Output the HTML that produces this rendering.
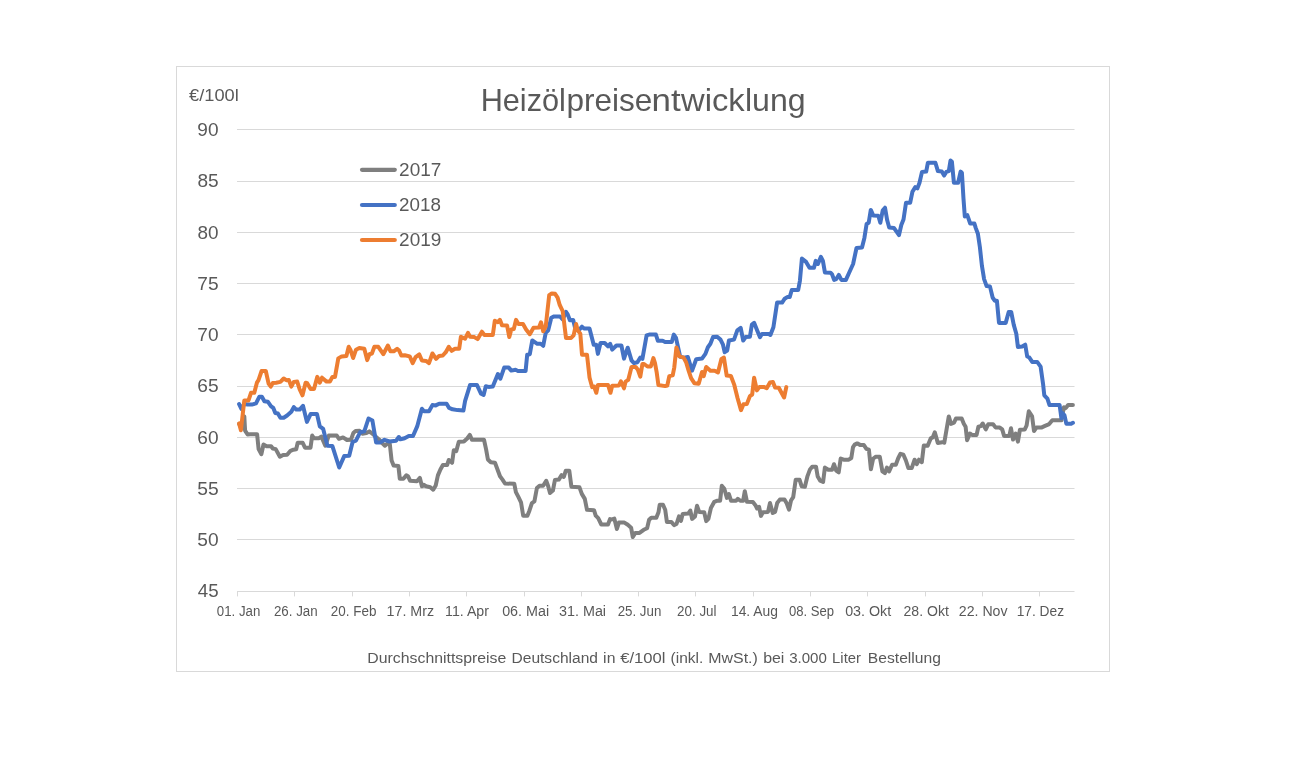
<!DOCTYPE html>
<html lang="de"><head><meta charset="utf-8"><title>Heizölpreisentwicklung</title>
<style>html,body{margin:0;padding:0;background:#fff;}body{width:1316px;height:762px;overflow:hidden;}svg{display:block;}text{font-family:"Liberation Sans", sans-serif;fill:#595959;}</style></head><body>
<svg width="1316" height="762" viewBox="0 0 1316 762">
<rect x="0" y="0" width="1316" height="762" fill="#fff"/>
<rect x="176.5" y="66.5" width="933" height="605" fill="#fff" stroke="#d9d9d9" stroke-width="1" shape-rendering="crispEdges"/>
<g stroke="#d9d9d9" stroke-width="1">
<line x1="237" y1="129.5" x2="1074.5" y2="129.5"/>
<line x1="237" y1="181.5" x2="1074.5" y2="181.5"/>
<line x1="237" y1="232.5" x2="1074.5" y2="232.5"/>
<line x1="237" y1="283.5" x2="1074.5" y2="283.5"/>
<line x1="237" y1="334.5" x2="1074.5" y2="334.5"/>
<line x1="237" y1="386.5" x2="1074.5" y2="386.5"/>
<line x1="237" y1="437.5" x2="1074.5" y2="437.5"/>
<line x1="237" y1="488.5" x2="1074.5" y2="488.5"/>
<line x1="237" y1="539.5" x2="1074.5" y2="539.5"/>
<line x1="237" y1="591.5" x2="1074.5" y2="591.5"/>
<line x1="237.5" y1="591" x2="237.5" y2="596.4"/>
<line x1="294.5" y1="591" x2="294.5" y2="596.4"/>
<line x1="352.5" y1="591" x2="352.5" y2="596.4"/>
<line x1="409.5" y1="591" x2="409.5" y2="596.4"/>
<line x1="466.5" y1="591" x2="466.5" y2="596.4"/>
<line x1="524.5" y1="591" x2="524.5" y2="596.4"/>
<line x1="581.5" y1="591" x2="581.5" y2="596.4"/>
<line x1="638.5" y1="591" x2="638.5" y2="596.4"/>
<line x1="695.5" y1="591" x2="695.5" y2="596.4"/>
<line x1="753.5" y1="591" x2="753.5" y2="596.4"/>
<line x1="810.5" y1="591" x2="810.5" y2="596.4"/>
<line x1="867.5" y1="591" x2="867.5" y2="596.4"/>
<line x1="925.5" y1="591" x2="925.5" y2="596.4"/>
<line x1="982.5" y1="591" x2="982.5" y2="596.4"/>
<line x1="1039.5" y1="591" x2="1039.5" y2="596.4"/>
</g>
<text x="189.07" y="100.90" font-size="16.8" textLength="49.77" lengthAdjust="spacingAndGlyphs">€/100l</text>
<text x="197.32" y="135.70" font-size="18.6" textLength="21.19" lengthAdjust="spacingAndGlyphs">90</text>
<text x="197.47" y="186.50" font-size="18.6" textLength="21.22" lengthAdjust="spacingAndGlyphs">85</text>
<text x="197.48" y="238.70" font-size="18.6" textLength="21.04" lengthAdjust="spacingAndGlyphs">80</text>
<text x="197.32" y="289.70" font-size="18.6" textLength="21.29" lengthAdjust="spacingAndGlyphs">75</text>
<text x="197.32" y="340.70" font-size="18.6" textLength="21.19" lengthAdjust="spacingAndGlyphs">70</text>
<text x="197.30" y="391.50" font-size="18.6" textLength="21.30" lengthAdjust="spacingAndGlyphs">65</text>
<text x="197.29" y="443.70" font-size="18.6" textLength="21.21" lengthAdjust="spacingAndGlyphs">60</text>
<text x="197.33" y="494.70" font-size="18.6" textLength="21.39" lengthAdjust="spacingAndGlyphs">55</text>
<text x="197.33" y="545.70" font-size="18.6" textLength="21.29" lengthAdjust="spacingAndGlyphs">50</text>
<text x="197.88" y="596.50" font-size="18.6" textLength="20.82" lengthAdjust="spacingAndGlyphs">45</text>
<text x="216.86" y="615.80" font-size="14" textLength="43.53" lengthAdjust="spacingAndGlyphs">01. Jan</text>
<text x="273.92" y="615.80" font-size="14" textLength="43.74" lengthAdjust="spacingAndGlyphs">26. Jan</text>
<text x="330.78" y="615.80" font-size="14" textLength="45.65" lengthAdjust="spacingAndGlyphs">20. Feb</text>
<text x="386.57" y="615.80" font-size="14" textLength="47.52" lengthAdjust="spacingAndGlyphs">17. Mrz</text>
<text x="445.11" y="615.80" font-size="14" textLength="43.87" lengthAdjust="spacingAndGlyphs">11. Apr</text>
<text x="502.16" y="615.80" font-size="14" textLength="46.94" lengthAdjust="spacingAndGlyphs">06. Mai</text>
<text x="559.06" y="615.80" font-size="14" textLength="47.01" lengthAdjust="spacingAndGlyphs">31. Mai</text>
<text x="617.66" y="615.80" font-size="14" textLength="43.69" lengthAdjust="spacingAndGlyphs">25. Jun</text>
<text x="677.04" y="615.80" font-size="14" textLength="39.53" lengthAdjust="spacingAndGlyphs">20. Jul</text>
<text x="730.94" y="615.80" font-size="14" textLength="47.04" lengthAdjust="spacingAndGlyphs">14. Aug</text>
<text x="788.89" y="615.80" font-size="14" textLength="45.12" lengthAdjust="spacingAndGlyphs">08. Sep</text>
<text x="845.16" y="615.80" font-size="14" textLength="46.08" lengthAdjust="spacingAndGlyphs">03. Okt</text>
<text x="903.49" y="615.80" font-size="14" textLength="45.37" lengthAdjust="spacingAndGlyphs">28. Okt</text>
<text x="958.86" y="615.80" font-size="14" textLength="48.66" lengthAdjust="spacingAndGlyphs">22. Nov</text>
<text x="1016.67" y="615.80" font-size="14" textLength="47.37" lengthAdjust="spacingAndGlyphs">17. Dez</text>
<text x="399.08" y="176.20" font-size="18.2" textLength="42.23" lengthAdjust="spacingAndGlyphs">2017</text>
<text x="399.08" y="211.40" font-size="18.2" textLength="41.84" lengthAdjust="spacingAndGlyphs">2018</text>
<text x="399.08" y="246.40" font-size="18.2" textLength="42.21" lengthAdjust="spacingAndGlyphs">2019</text>
<text y="110.8" font-size="31.2"><tspan x="480.65" textLength="85.21" lengthAdjust="spacingAndGlyphs">Heizöl</tspan><tspan x="566.55" textLength="85.84" lengthAdjust="spacingAndGlyphs">preise</tspan><tspan x="651.58" textLength="29.15" lengthAdjust="spacingAndGlyphs">nt</tspan><tspan x="681.06" textLength="63.64" lengthAdjust="spacingAndGlyphs">wick</tspan><tspan x="744.96" textLength="60.70" lengthAdjust="spacingAndGlyphs">lung</tspan></text>
<text y="662.7" font-size="14"><tspan x="367.35" textLength="138.98" lengthAdjust="spacingAndGlyphs">Durchschnittspreise</tspan> <tspan x="511.49" textLength="86.52" lengthAdjust="spacingAndGlyphs">Deutschland</tspan> <tspan x="603.14" textLength="12.30" lengthAdjust="spacingAndGlyphs">in</tspan> <tspan x="620.15" textLength="45.32" lengthAdjust="spacingAndGlyphs">€/100l</tspan> <tspan x="670.56" textLength="32.74" lengthAdjust="spacingAndGlyphs">(inkl.</tspan> <tspan x="708.33" textLength="49.52" lengthAdjust="spacingAndGlyphs">MwSt.)</tspan> <tspan x="763.15" textLength="21.24" lengthAdjust="spacingAndGlyphs">bei</tspan> <tspan x="789.17" textLength="37.76" lengthAdjust="spacingAndGlyphs">3.000</tspan> <tspan x="832.11" textLength="28.84" lengthAdjust="spacingAndGlyphs">Liter</tspan> <tspan x="867.88" textLength="73.01" lengthAdjust="spacingAndGlyphs">Bestellung</tspan></text>
<line x1="362" y1="169.8" x2="394.8" y2="169.8" stroke="#7f7f7f" stroke-width="4.2" stroke-linecap="round"/>
<line x1="362" y1="205.0" x2="394.8" y2="205.0" stroke="#4472c4" stroke-width="4.2" stroke-linecap="round"/>
<line x1="362" y1="240.0" x2="394.8" y2="240.0" stroke="#ed7d31" stroke-width="4.2" stroke-linecap="round"/>
<path d="M239.1,423.9 L241.8,423.9 L244.3,416.3 L245.1,430.6 L247.6,434.5 L250.0,434.2 L257.1,434.2 L258.6,449.1 L261.4,454.2 L263.5,444.5 L266.6,446.2 L271.1,446.2 L272.8,448.5 L275.7,449.1 L279.9,456.7 L283.1,455.0 L287.1,454.8 L290.5,450.8 L293.4,449.7 L296.2,449.3 L297.7,442.8 L302.7,442.8 L305.0,447.7 L310.5,447.7 L312.2,435.6 L313.9,438.2 L319.1,438.2 L321.3,436.5 L325.3,445.7 L328.8,435.6 L336.8,435.6 L339.0,438.8 L343.0,437.4 L347.0,440.0 L351.0,439.7 L353.3,433.1 L355.6,431.1 L359.6,430.8 L362.4,433.7 L366.4,433.1 L369.3,431.4 L371.6,433.1 L379.0,439.4 L382.4,443.4 L384.9,445.7 L387.6,443.4 L389.8,443.9 L391.6,460.5 L393.6,465.6 L398.4,466.0 L399.8,478.8 L403.4,478.8 L406.3,475.4 L408.1,476.3 L410.2,480.8 L416.9,481.3 L419.9,477.9 L421.9,486.3 L423.6,484.7 L426.1,486.3 L430.3,487.2 L433.2,489.7 L435.7,485.5 L437.9,475.4 L440.4,469.5 L442.9,465.0 L447.1,465.0 L448.8,460.0 L452.1,462.8 L453.8,450.2 L456.3,451.1 L458.8,441.8 L463.9,441.5 L467.2,438.5 L469.8,434.8 L471.9,439.8 L484.0,439.8 L486.1,449.4 L487.9,459.5 L490.8,462.3 L495.0,462.8 L497.5,469.5 L500.0,476.3 L502.5,479.6 L505.0,483.5 L514.3,483.8 L515.9,492.2 L518.5,497.2 L521.0,502.3 L523.2,515.7 L527.4,515.7 L529.4,510.7 L531.9,503.1 L534.4,501.4 L536.9,488.0 L539.5,485.8 L543.1,485.8 L546.2,480.8 L548.2,486.3 L550.0,493.0 L552.9,490.5 L554.9,480.1 L558.8,479.6 L561.6,475.1 L563.8,476.8 L565.8,470.7 L569.3,470.7 L571.4,486.8 L579.4,487.2 L581.8,493.9 L584.8,498.9 L587.0,509.8 L594.0,510.2 L595.7,515.7 L598.2,518.2 L601.3,524.5 L608.0,524.5 L610.0,519.1 L610.2,519.8 L614.3,518.6 L616.9,529.0 L618.9,522.6 L624.4,522.6 L627.8,524.8 L631.1,527.7 L632.8,537.1 L635.3,532.9 L639.5,532.9 L643.7,529.8 L647.1,528.2 L649.1,519.8 L651.3,517.7 L656.3,517.7 L658.5,512.2 L659.7,504.7 L663.0,504.7 L665.2,509.7 L666.9,521.9 L671.4,521.9 L674.0,525.1 L676.5,524.0 L679.0,516.4 L681.0,520.9 L682.7,513.9 L688.2,513.6 L690.3,510.5 L692.1,518.9 L695.0,516.4 L697.0,505.8 L699.2,511.9 L704.2,512.2 L706.2,521.1 L708.4,518.9 L710.9,508.0 L714.3,501.8 L716.8,500.8 L720.1,500.8 L721.8,485.7 L724.3,488.7 L726.9,497.9 L728.9,494.1 L731.1,500.8 L736.1,500.8 L737.8,498.8 L740.3,500.8 L743.1,500.8 L744.8,491.2 L747.0,501.8 L752.9,502.1 L755.4,505.2 L757.1,508.5 L759.1,506.8 L760.9,515.9 L763.0,512.2 L768.0,511.9 L770.0,503.0 L772.7,513.0 L775.1,511.9 L777.2,503.0 L779.8,499.6 L784.5,499.6 L786.8,503.5 L789.0,509.7 L791.0,500.5 L793.2,497.1 L795.7,479.8 L799.6,479.8 L801.6,486.2 L804.9,486.7 L807.5,476.1 L810.0,469.4 L812.2,466.7 L816.0,466.7 L817.7,476.5 L820.2,480.7 L823.1,482.0 L824.9,467.6 L828.3,469.8 L832.0,469.8 L834.0,464.2 L836.2,470.6 L838.7,472.3 L840.7,458.5 L843.7,459.7 L848.8,459.7 L851.3,458.0 L853.0,447.1 L854.7,444.6 L857.2,443.4 L860.5,445.1 L863.9,445.1 L866.4,448.8 L868.9,449.6 L870.9,469.3 L873.1,458.8 L875.6,456.8 L879.8,456.8 L882.4,471.4 L884.9,473.1 L886.9,467.6 L889.1,471.4 L892.1,464.7 L895.8,464.7 L898.3,458.0 L900.5,453.8 L903.4,454.7 L905.9,460.5 L908.4,468.1 L911.7,468.1 L914.6,459.7 L916.8,464.2 L919.0,459.7 L921.8,462.2 L923.8,445.4 L927.7,445.8 L930.7,438.4 L932.7,437.4 L934.8,432.3 L937.8,442.9 L943.7,442.1 L944.3,442.6 L946.7,428.6 L948.8,416.4 L951.0,423.9 L954.0,422.7 L955.9,418.6 L961.7,418.6 L963.8,423.7 L965.6,426.7 L967.1,440.2 L969.9,433.5 L972.0,434.9 L976.6,434.9 L978.4,426.7 L980.9,426.1 L982.7,423.5 L985.8,429.4 L988.2,424.3 L993.1,424.3 L995.5,427.4 L999.8,427.6 L1002.2,429.4 L1004.1,435.9 L1009.3,435.9 L1011.0,428.3 L1013.0,439.6 L1015.7,433.5 L1017.9,441.6 L1019.9,429.8 L1024.8,429.4 L1026.6,425.5 L1028.8,411.2 L1032.1,416.4 L1034.0,431.0 L1036.4,427.6 L1041.3,427.6 L1045.0,425.9 L1049.2,424.1 L1052.3,420.3 L1061.4,420.3 L1063.9,407.2 L1065.7,408.1 L1068.1,405.0 L1072.9,405.0" fill="none" stroke="#7f7f7f" stroke-width="4" stroke-linejoin="round" stroke-linecap="round"/>
<path d="M239.1,404.1 L241.4,408.8 L244.3,404.1 L247.6,404.6 L251.8,404.6 L256.0,403.4 L259.4,396.7 L261.9,396.7 L264.4,401.2 L267.8,401.7 L271.1,406.3 L273.3,407.9 L275.3,413.0 L277.9,413.5 L280.4,417.7 L283.7,417.7 L287.1,415.5 L291.3,411.8 L293.8,407.1 L296.3,409.6 L299.7,409.6 L303.0,405.8 L306.9,421.9 L310.6,414.1 L317.0,414.1 L319.8,426.4 L323.2,428.9 L327.4,445.7 L332.4,446.1 L339.2,467.5 L344.2,456.1 L349.2,455.8 L352.6,442.0 L355.9,440.7 L360.1,432.3 L364.3,431.4 L368.5,418.5 L372.4,420.5 L376.1,442.4 L380.3,442.4 L384.5,439.8 L389.5,441.5 L396.2,440.7 L398.8,437.0 L400.4,439.3 L404.6,438.2 L408.8,436.0 L413.0,436.0 L417.2,426.4 L421.9,408.8 L424.0,411.3 L429.0,411.3 L432.4,405.1 L435.7,405.4 L439.1,403.7 L446.6,403.7 L449.1,407.9 L452.5,409.3 L457.5,410.1 L463.4,410.6 L465.1,400.9 L470.1,384.9 L476.9,384.9 L481.1,393.8 L483.6,395.0 L485.8,386.3 L488.6,386.9 L492.8,386.6 L497.9,374.0 L500.4,378.7 L504.2,367.6 L508.8,367.6 L511.3,370.6 L515.5,369.8 L518.0,371.0 L525.6,371.0 L527.2,354.7 L529.8,354.2 L532.3,340.4 L537.3,343.8 L540.7,343.8 L543.2,345.8 L545.7,332.9 L548.2,330.3 L551.3,317.7 L554.1,316.4 L560.0,316.4 L562.7,319.5 L566.0,311.9 L567.7,314.4 L569.9,320.3 L573.2,320.0 L575.3,328.7 L579.5,329.5 L582.0,326.7 L584.0,328.4 L589.5,328.4 L593.7,344.7 L596.3,344.7 L597.9,353.9 L600.5,343.0 L604.7,343.0 L608.0,346.3 L610.2,343.8 L612.2,349.7 L616.4,345.5 L621.4,345.5 L624.0,358.6 L627.7,347.7 L631.5,360.3 L634.0,363.1 L637.4,362.3 L640.3,357.6 L642.4,358.9 L646.6,335.4 L649.2,334.6 L655.9,334.6 L657.9,340.8 L662.6,340.8 L665.1,342.1 L671.8,342.1 L673.8,334.6 L676.0,337.9 L680.2,356.9 L684.4,357.6 L687.8,356.9 L692.0,370.7 L696.2,359.3 L702.0,358.6 L705.4,353.9 L707.9,347.2 L710.4,343.8 L713.0,337.1 L717.2,336.8 L720.5,339.6 L723.0,344.7 L724.7,352.2 L727.2,350.5 L728.9,340.5 L734.0,339.6 L737.3,330.4 L740.7,327.9 L743.2,340.5 L745.7,337.1 L749.9,336.8 L751.9,324.5 L754.1,322.8 L757.5,331.2 L760.0,337.1 L762.0,334.0 L768.7,334.0 L770.4,335.0 L773.4,327.3 L777.1,302.6 L782.1,302.6 L784.7,298.7 L787.2,297.1 L789.7,297.1 L791.4,291.3 L791.8,290.0 L798.2,290.0 L799.9,280.8 L801.9,258.6 L806.1,261.9 L809.5,267.7 L814.0,267.7 L815.7,260.9 L817.9,264.0 L820.9,256.9 L822.9,260.9 L824.9,272.4 L830.5,272.7 L832.1,274.4 L834.1,279.9 L836.3,279.1 L838.8,274.9 L841.4,279.9 L845.9,279.9 L848.9,273.2 L853.1,264.0 L856.5,248.0 L862.0,247.5 L864.4,237.9 L866.6,224.0 L868.7,222.8 L870.8,209.9 L873.3,215.6 L878.3,215.8 L880.3,222.8 L882.8,210.2 L885.0,207.7 L887.2,220.3 L889.2,227.5 L893.9,227.9 L899.0,235.1 L901.3,225.0 L903.5,219.5 L906.0,202.7 L910.2,202.7 L912.4,191.8 L915.3,187.1 L917.4,188.4 L919.5,182.8 L922.0,171.9 L926.2,171.6 L927.9,162.7 L935.4,162.7 L937.9,171.1 L941.8,171.6 L944.1,175.6 L946.3,171.9 L948.8,171.1 L950.5,160.5 L951.9,161.8 L953.9,182.8 L958.1,182.8 L960.6,171.6 L961.9,172.7 L963.5,198.8 L964.8,216.4 L967.3,215.2 L970.2,223.5 L974.4,223.5 L975.7,227.9 L977.9,233.7 L979.9,247.2 L981.9,265.6 L984.1,279.1 L986.6,286.1 L990.0,286.6 L992.7,297.7 L994.9,300.7 L996.9,300.7 L999.0,322.9 L1005.7,322.9 L1008.7,312.0 L1011.2,312.0 L1013.7,324.6 L1016.3,333.8 L1017.9,346.9 L1022.1,346.4 L1025.2,344.7 L1027.2,356.5 L1029.2,357.3 L1032.2,361.9 L1037.2,361.9 L1040.6,366.6 L1043.1,384.2 L1044.3,395.4 L1047.4,398.7 L1049.5,405.1 L1059.6,405.1 L1061.4,418.2 L1062.7,413.3 L1064.5,415.4 L1066.3,423.7 L1071.2,423.7 L1072.9,422.8" fill="none" stroke="#4472c4" stroke-width="4" stroke-linejoin="round" stroke-linecap="round"/>
<path d="M239.1,423.4 L240.9,430.3 L244.3,400.4 L248.5,400.4 L251.0,392.8 L254.3,392.8 L256.9,382.7 L258.5,380.2 L261.6,371.0 L265.8,371.0 L268.6,383.6 L270.8,386.6 L272.8,383.1 L276.2,382.7 L280.4,381.9 L283.7,378.5 L286.3,380.2 L288.8,379.9 L291.3,386.6 L293.8,381.9 L297.2,381.6 L299.7,389.5 L302.5,395.3 L305.6,382.7 L307.2,383.2 L310.6,389.0 L314.0,389.0 L317.3,376.9 L319.8,382.7 L322.0,377.7 L326.6,381.6 L329.9,381.6 L332.4,376.9 L335.0,376.9 L338.3,358.4 L341.7,356.4 L346.4,355.9 L348.7,346.8 L350.4,349.7 L353.1,358.0 L356.0,349.7 L359.3,348.0 L364.3,348.8 L367.2,360.1 L369.4,354.2 L371.9,353.5 L374.4,346.8 L378.3,346.8 L383.3,354.2 L387.9,345.5 L390.4,351.3 L393.7,351.3 L397.1,348.8 L399.1,350.5 L401.3,355.5 L404.7,355.2 L409.7,356.4 L412.7,363.1 L415.6,357.2 L419.3,354.4 L421.9,360.6 L426.0,360.9 L429.0,363.1 L432.4,353.5 L436.1,358.9 L439.1,355.9 L442.8,355.5 L445.8,352.2 L448.8,346.8 L451.7,350.8 L455.0,348.8 L459.2,348.8 L460.9,336.7 L465.1,338.7 L468.0,332.9 L470.1,336.7 L474.3,337.1 L477.7,339.1 L481.9,331.7 L484.4,335.0 L492.8,335.0 L494.8,320.8 L497.9,322.3 L499.9,319.8 L502.0,325.3 L507.1,325.6 L509.3,337.1 L511.3,329.5 L513.8,329.0 L516.0,319.9 L518.5,324.0 L523.0,324.1 L526.1,329.5 L529.8,334.2 L533.5,327.8 L539.0,327.5 L541.0,322.3 L543.2,331.2 L545.7,326.6 L549.2,295.1 L551.8,293.4 L555.1,293.8 L557.6,297.6 L559.8,305.2 L562.7,311.1 L566.0,337.9 L571.1,337.9 L573.6,335.4 L576.1,324.0 L577.8,330.4 L580.3,333.7 L582.0,354.7 L587.0,354.7 L589.5,377.4 L592.1,387.1 L594.1,386.6 L596.3,392.8 L597.9,385.0 L608.0,385.0 L610.5,392.8 L612.2,385.8 L618.9,385.5 L620.9,381.3 L624.0,388.3 L625.6,381.6 L628.2,379.9 L631.5,367.0 L635.7,367.0 L637.9,369.8 L640.3,376.6 L642.4,364.0 L644.1,364.0 L647.5,366.5 L650.8,366.5 L653.4,358.1 L655.0,363.1 L656.7,372.4 L658.4,385.0 L665.1,386.1 L667.3,385.5 L669.3,376.1 L672.7,375.4 L674.3,367.3 L676.4,347.5 L679.4,356.4 L683.6,357.6 L686.1,362.3 L688.6,370.7 L691.1,378.2 L694.5,383.3 L698.7,383.8 L702.0,372.0 L703.7,376.1 L706.2,367.0 L710.4,370.7 L714.6,370.7 L718.0,372.4 L721.4,358.9 L723.9,357.6 L726.7,375.6 L730.9,376.0 L734.3,384.9 L737.6,398.3 L741.0,410.1 L743.5,404.2 L746.9,403.9 L749.9,396.1 L752.2,394.5 L754.1,377.7 L756.9,390.4 L759.5,386.9 L763.7,386.9 L766.7,388.2 L770.0,382.4 L772.9,381.9 L775.1,387.4 L778.8,387.7 L784.1,397.5 L786.3,387.1" fill="none" stroke="#ed7d31" stroke-width="4" stroke-linejoin="round" stroke-linecap="round"/>
</svg></body></html>
